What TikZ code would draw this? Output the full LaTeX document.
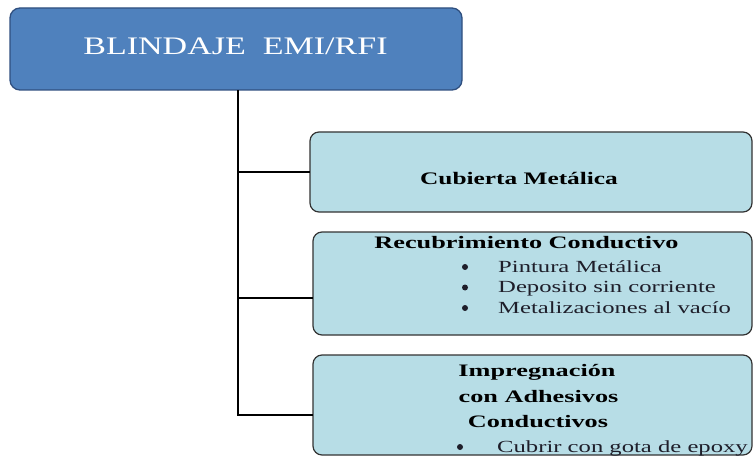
\documentclass[tikz,border=0pt]{standalone}
\usepackage{graphicx}
\usepackage{fontspec}
\setmainfont{Liberation Serif}
\definecolor{topfill}{HTML}{4F81BD}
\definecolor{topline}{HTML}{2F4F7F}
\definecolor{subfill}{HTML}{B7DDE6}
\definecolor{subline}{HTML}{333333}
\definecolor{itemtext}{HTML}{1E1E2A}
\tikzset{
  topbox/.style={draw=topline, line width=1.3pt, fill=topfill, rounded corners=10pt},
  subbox/.style={draw=subline, line width=1.2pt, fill=subfill, rounded corners=9pt},
  link/.style={draw=black, line width=2.3pt},
  lbl/.style={inner sep=0pt, anchor=base},
  hd/.style={lbl, font=\bfseries\fontsize{17.5}{20}\selectfont},
  item/.style={inner sep=0pt, anchor=base west, text=itemtext, font=\fontsize{17}{20}\selectfont},
  bul/.style={circle, inner sep=0pt, minimum size=6pt, fill=itemtext},
}
\newcommand{\widetxt}[2]{\scalebox{#1}[1]{#2}}
\begin{document}
\begin{tikzpicture}[x=1pt,y=-1pt]
\useasboundingbox (0,0) rectangle (754,457);
% boxes
\draw[topbox] (10,8) rectangle (462,90);
\node[inner sep=0pt, minimum width=452pt, minimum height=82pt] (top) at (236,49) {};
\draw[subbox] (310,132) rectangle (752,212);
\node[inner sep=0pt, minimum width=442pt, minimum height=80pt] (cub) at (531,172) {};
\draw[subbox] (313,232) rectangle (752,335);
\node[inner sep=0pt, minimum width=439pt, minimum height=103pt] (rec) at (532.5,283.5) {};
\draw[subbox] (313,355) rectangle (752,455);
\node[inner sep=0pt, minimum width=439pt, minimum height=100pt] (imp) at (532.5,405) {};
% trunk
\coordinate (j1) at (238,172);
\coordinate (j2) at (238,298);
\coordinate (j3) at (238,415);
\draw[link] (top.south -| j1) -- (j3) -- (j3 -| imp.west);
\draw[link] (j1) -- (cub.west);
\draw[link] (j2) -- (j2 -| rec.west);
% texts
\node[lbl, text=white, font=\fontsize{25.2}{30}\selectfont] (t0) at (235.5,55) {\widetxt{1.35}{BLINDAJE\ \ EMI/RFI}};
\node[lbl, font=\bfseries\fontsize{17.6}{22}\selectfont] (t1) at (519,185) {\widetxt{1.44}{Cubierta Metálica}};
\node[hd] (t2) at (526.5,248) {\widetxt{1.5}{Recubrimiento Conductivo}};
\node[bul] (b1) at (465,267) {};
\node[item] (i1) at (498,272) {\widetxt{1.45}{Pintura Metálica}};
\node[bul] (b2) at (465,287.5) {};
\node[item] (i2) at (498,292.5) {\widetxt{1.45}{Deposito sin corriente}};
\node[bul] (b3) at (465,308) {};
\node[item] (i3) at (498,313) {\widetxt{1.45}{Metalizaciones al vacío}};
\node[hd] (t3) at (537,376) {\widetxt{1.5}{Impregnación}};
\node[hd] (t4) at (538.5,402) {\widetxt{1.5}{con Adhesivos}};
\node[hd] (t5) at (538,427) {\widetxt{1.5}{Conductivos}};
\node[bul] (b4) at (460,447) {};
\node[item] (i4) at (497,452) {\widetxt{1.45}{Cubrir con gota de epoxy}};
\end{tikzpicture}
\end{document}
